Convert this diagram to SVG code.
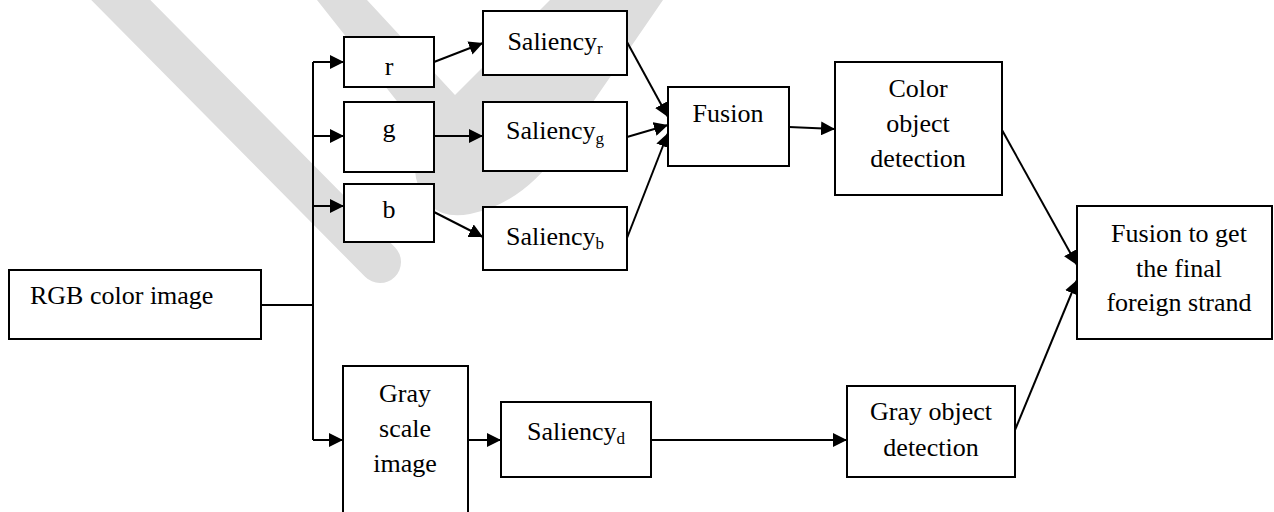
<svg xmlns="http://www.w3.org/2000/svg" width="1274" height="512" viewBox="0 0 1274 512">
<style>
.box{fill:#fff;stroke:#000;stroke-width:2}
.t{font-family:"Liberation Serif","Times New Roman",serif;font-size:26px;fill:#000}
.c{text-anchor:middle}
.sub{font-size:17px}
.ln{fill:none;stroke:#000;stroke-width:2}
.ar{fill:none;stroke:#000;stroke-width:2;marker-end:url(#ah)}
.wm{fill:#dddddd;stroke:none}
</style>
<defs>
<marker id="ah" markerUnits="userSpaceOnUse" markerWidth="15" markerHeight="14" refX="14" refY="7" orient="auto">
<path d="M0,0 L14,7 L0,14 z" fill="#000"/>
</marker>
</defs>
<g id="watermark">
<line x1="100" y1="-21" x2="380" y2="262" stroke="#dddddd" stroke-width="42" stroke-linecap="round"/>
<path class="wm" d="M317,0 L400,105 Q412,140 416,178 Q426,222 470,214 Q522,204 560,150 L663,0 L550,0 L455,95 L367,0 Z"/>
</g>
<g id="connectors">
<polyline class="ln" points="261,305 313,305"/>
<polyline class="ln" points="313,62 313,440"/>
<line class="ar" x1="313" y1="62" x2="344" y2="62"/>
<line class="ar" x1="313" y1="136" x2="344" y2="136"/>
<line class="ar" x1="313" y1="206" x2="344" y2="206"/>
<line class="ar" x1="313" y1="440" x2="343" y2="440"/>
<line class="ar" x1="434" y1="62" x2="483" y2="43"/>
<line class="ar" x1="434" y1="136" x2="483" y2="136"/>
<line class="ar" x1="434" y1="212" x2="483" y2="237"/>
<line class="ar" x1="627" y1="42" x2="668" y2="117"/>
<line class="ar" x1="627" y1="137" x2="668" y2="125"/>
<line class="ar" x1="627" y1="238" x2="668" y2="133"/>
<line class="ar" x1="789" y1="127" x2="835" y2="129"/>
<line class="ar" x1="1002" y1="130" x2="1077" y2="265"/>
<line class="ar" x1="468" y1="440" x2="501" y2="440"/>
<line class="ar" x1="651" y1="440" x2="847" y2="440"/>
<line class="ar" x1="1015" y1="430" x2="1077" y2="280"/>
</g>
<g id="rgb">
<rect class="box" x="9" y="270" width="252" height="69"/>
<text class="t" x="30" y="304">RGB color image</text>
</g>
<g id="r">
<rect class="box" x="344" y="37" width="90" height="50"/>
<text class="t c" x="389" y="75">r</text>
</g>
<g id="g">
<rect class="box" x="344" y="102" width="90" height="70"/>
<text class="t c" x="389" y="137">g</text>
</g>
<g id="b">
<rect class="box" x="344" y="184" width="90" height="58"/>
<text class="t c" x="389" y="218">b</text>
</g>
<g id="saliency-r">
<rect class="box" x="483" y="11" width="144" height="64"/>
<text class="t c" x="555" y="50">Saliency<tspan class="sub" dy="4">r</tspan></text>
</g>
<g id="saliency-g">
<rect class="box" x="483" y="102" width="144" height="69"/>
<text class="t c" x="555" y="139">Saliency<tspan class="sub" dy="5">g</tspan></text>
</g>
<g id="saliency-b">
<rect class="box" x="483" y="207" width="144" height="63"/>
<text class="t c" x="555" y="245">Saliency<tspan class="sub" dy="4">b</tspan></text>
</g>
<g id="fusion">
<rect class="box" x="668" y="87" width="121" height="79"/>
<text class="t c" x="728" y="122">Fusion</text>
</g>
<g id="color-object">
<rect class="box" x="835" y="62" width="167" height="133"/>
<text class="t c" x="918" y="97">Color</text>
<text class="t c" x="918" y="132">object</text>
<text class="t c" x="918" y="167">detection</text>
</g>
<g id="final">
<rect class="box" x="1077" y="206" width="195" height="133"/>
<text class="t c" x="1179" y="242">Fusion to get</text>
<text class="t c" x="1179" y="277">the final</text>
<text class="t c" x="1179" y="311">foreign strand</text>
</g>
<g id="gray-scale">
<rect class="box" x="343" y="366" width="125" height="152"/>
<text class="t c" x="405" y="402">Gray</text>
<text class="t c" x="405" y="437">scale</text>
<text class="t c" x="405" y="472">image</text>
</g>
<g id="saliency-d">
<rect class="box" x="501" y="402" width="150" height="75"/>
<text class="t c" x="576" y="440">Saliency<tspan class="sub" dy="4">d</tspan></text>
</g>
<g id="gray-object">
<rect class="box" x="847" y="386" width="168" height="91"/>
<text class="t c" x="931" y="420">Gray object</text>
<text class="t c" x="931" y="456">detection</text>
</g>
</svg>
